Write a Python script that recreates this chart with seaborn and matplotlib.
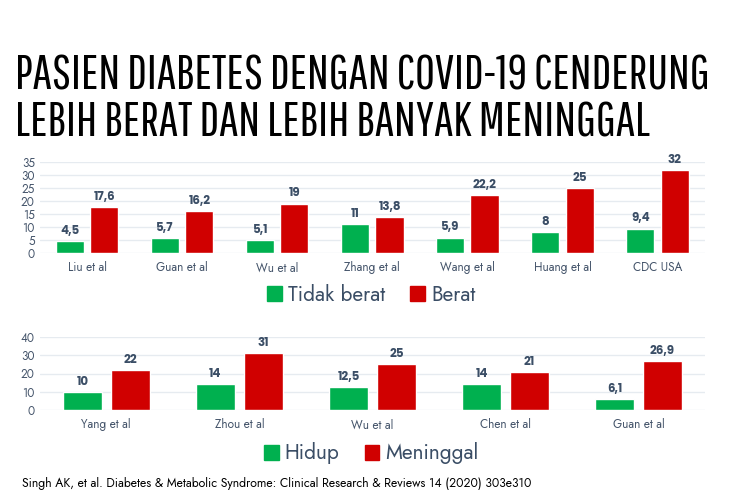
import pandas as pd
import matplotlib.pyplot as plt
import seaborn as sns
from matplotlib import font_manager as fm

# data
studies_top = ["Liu et al", "Guan et al", "Wu et al", "Zhang et al", "Wang et al", "Huang et al", "CDC USA"]
tidak_berat = [4.5, 5.7, 5.1, 11, 5.9, 8, 9.4]
berat = [17.6, 16.2, 19, 13.8, 22.2, 25, 32]

studies_bot = ["Yang et al", "Zhou et al", "Wu et al", "Chen et al", "Guan et al"]
hidup = [10, 14, 12.5, 14, 6.1]
meninggal = [22, 31, 25, 21, 26.9]

GREEN = "#00B04F"
RED = "#D00000"
TXT = "#3B4E66"


def have(name):
    try:
        fm.findfont(fm.FontProperties(family=name), fallback_to_default=False)
        return True
    except Exception:
        return False


sns.set_theme(style="white")
plt.rcParams['font.family'] = ['Jost', 'Lato', 'DejaVu Sans']

title_font = ['Pathway Gothic One', 'DejaVu Sans']
title_size = 35 if have('Pathway Gothic One') else 20

df_top = pd.DataFrame({
    "studi": studies_top * 2,
    "nilai": tidak_berat + berat,
    "grup": ["Tidak berat"] * 7 + ["Berat"] * 7,
})
df_bot = pd.DataFrame({
    "studi": studies_bot * 2,
    "nilai": hidup + meninggal,
    "grup": ["Hidup"] * 5 + ["Meninggal"] * 5,
})

fig = plt.figure(figsize=(7.5, 5), dpi=100)
ax1 = fig.add_axes([0.053, 0.494, 0.887, 0.182])
ax2 = fig.add_axes([0.053, 0.18, 0.887, 0.146])


def fmt(v):
    return f"{v:g}".replace(".", ",")


def draw(ax, df, order, hues, ymax, step, legend_y):
    sns.barplot(data=df, x="studi", y="nilai", hue="grup", order=order,
                hue_order=hues, palette=[GREEN, RED], width=0.72, gap=0.18,
                saturation=1, ax=ax, legend=False, zorder=3)
    for c in ax.containers:
        ax.bar_label(c, labels=[fmt(b.get_height()) for b in c], padding=3,
                     fontsize=8.5, fontweight="bold", color=TXT,
                     family=['Poppins', 'Lato', 'DejaVu Sans'])
    ax.set_ylim(0, ymax)
    ax.set_yticks(range(0, ymax + 1, step))
    ax.set_xlim(-0.5, len(order) - 0.5)
    ax.yaxis.grid(True, color="#E6EBF0", linewidth=1, zorder=0)
    ax.set_axisbelow(True)
    for s in ax.spines.values():
        s.set_visible(False)
    ax.tick_params(axis="both", length=0, labelsize=8.5, labelcolor="#44546A")
    ax.tick_params(axis="x", pad=6)
    ax.set_xlabel("")
    ax.set_ylabel("")
    handles = [plt.Rectangle((0, 0), 1, 1, color=GREEN),
               plt.Rectangle((0, 0), 1, 1, color=RED)]
    leg = fig.legend(handles, hues, loc="center", bbox_to_anchor=(0.495, legend_y),
                     ncol=2, frameon=False, fontsize=15, handlelength=0.7,
                     handleheight=0.7, handletextpad=0.3, columnspacing=1.2)
    for t in leg.get_texts():
        t.set_color(TXT)


draw(ax1, df_top, studies_top, ["Tidak berat", "Berat"], 35, 5, 0.41)
draw(ax2, df_bot, studies_bot, ["Hidup", "Meninggal"], 40, 10, 0.093)

fig.text(0.02, 0.892, "PASIEN DIABETES DENGAN COVID-19 CENDERUNG\nLEBIH BERAT DAN LEBIH BANYAK MENINGGAL",
         family=title_font, fontsize=title_size, color="black",
         va="top", ha="left", linespacing=1.04)

fig.text(0.03, 0.026, "Singh AK, et al. Diabetes & Metabolic Syndrome: Clinical Research & Reviews 14 (2020) 303e310",
         fontsize=8.8, color="black")

fig.savefig("out.png", dpi=100, facecolor="white")
